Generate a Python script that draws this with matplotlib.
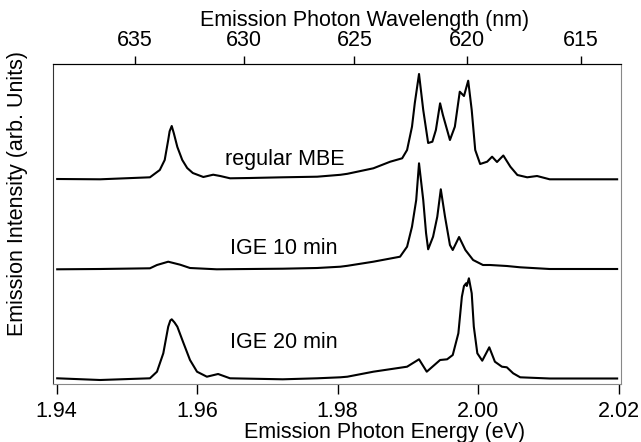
import matplotlib
matplotlib.use("Agg")
import matplotlib.pyplot as plt

plt.rcParams['font.family'] = ['Liberation Sans', 'DejaVu Sans']

# photon energy (eV) and intensity (arb. units)
mbe_energy = [1.9401, 1.9462, 1.9533, 1.9547, 1.9554, 1.9559, 1.9561, 1.9564, 1.9567,
              1.9572, 1.9579, 1.9586, 1.9594, 1.9609, 1.9623, 1.9633, 1.9647, 1.9675,
              1.9722, 1.9771, 1.9804, 1.9814, 1.9851, 1.9875, 1.9892, 1.9899, 1.9906,
              1.9910, 1.9916, 1.9922, 1.9929, 1.9935, 1.9940, 1.9946, 1.9950, 1.9960,
              1.9967, 1.9974, 1.9980, 1.9986, 1.9991, 1.9996, 2.0003, 2.0013, 2.0020,
              2.0027, 2.0036, 2.0046, 2.0056, 2.0070, 2.0084, 2.0102, 2.0198]
mbe_intensity = [0.3, 0.0, 2.0, 9.3, 19.3, 39.3, 48.0, 53.3, 46.0,
                 32.3, 19.3, 11.3, 6.3, 2.3, 4.6, 3.3, 1.0, 1.3,
                 2.0, 2.6, 4.5, 5.5, 11.0, 17.6, 21.0, 29.3, 52.6,
                 76.3, 105.3, 69.3, 36.3, 37.6, 49.3, 76.0, 64.3, 39.3,
                 52.6, 87.6, 83.3, 98.6, 69.3, 29.3, 15.3, 17.6, 22.6,
                 17.3, 23.8, 12.6, 4.3, 2.0, 3.3, 0.0, 0.0]

ige10_energy = [1.9401, 1.9462, 1.9533, 1.9543, 1.9559, 1.9576, 1.9590, 1.9628, 1.9722,
                1.9771, 1.9804, 1.9814, 1.9851, 1.9889, 1.9899, 1.9906, 1.9912, 1.9916,
                1.9922, 1.9926, 1.9929, 1.9936, 1.9942, 1.9947, 1.9953, 1.9960, 1.9964,
                1.9973, 1.9982, 1.9993, 2.0007, 2.0017, 2.0041, 2.0060, 2.0102, 2.0198]
ige10_intensity = [0.0, 0.3, 1.0, 4.3, 7.6, 4.6, 1.3, 0.0, 0.6,
                   1.3, 2.6, 3.5, 7.6, 12.6, 22.6, 42.6, 69.3, 106.0,
                   69.3, 36.3, 20.0, 32.6, 52.6, 80.0, 52.6, 24.3, 19.3,
                   32.3, 19.3, 9.3, 4.3, 4.3, 3.3, 2.0, 0.3, 0.3]

ige20_energy = [1.9401, 1.9462, 1.9533, 1.9543, 1.9552, 1.9559, 1.9562, 1.9564, 1.9568,
                1.9572, 1.9580, 1.9590, 1.9600, 1.9614, 1.9630, 1.9647, 1.9722, 1.9771,
                1.9804, 1.9814, 1.9851, 1.9899, 1.9916, 1.9927, 1.9946, 1.9956, 1.9964,
                1.9972, 1.9977, 1.9980, 1.9983, 1.9984, 1.9987, 1.9991, 1.9994, 1.9999,
                2.0006, 2.0016, 2.0024, 2.0034, 2.0041, 2.0050, 2.0060, 2.0102, 2.0198]
ige20_intensity = [0.2, -1.5, 0.2, 6.8, 25.2, 51.8, 58.0, 59.2, 56.0,
                   51.8, 36.8, 18.5, 6.8, 1.8, 4.5, 0.2, -0.8, 0.2,
                   1.2, 1.8, 6.8, 11.8, 19.2, 6.8, 18.5, 19.2, 23.5,
                   45.2, 81.8, 92.5, 95.2, 92.5, 100.2, 85.2, 51.8, 25.2,
                   17.8, 31.2, 16.8, 11.8, 11.2, 5.2, 1.2, 0.0, 0.0]

sample_names = ['regular MBE', 'IGE 10 min', 'IGE 20 min']
energy_ticks = [1.94, 1.96, 1.98, 2.00, 2.02]
wavelength_ticks = [635, 630, 625, 620, 615]

HC = 1239.0  # eV nm

offsets = [204.7, 114.7, 5.5]
label_pos = [(1.9640, 224), (1.9647, 136), (1.9647, 41)]

fig = plt.figure(figsize=(6.41, 4.42), dpi=100)
ax = fig.add_axes([53 / 641, 1 - 384 / 442, 568 / 641, 320 / 442])

series = [(mbe_energy, mbe_intensity), (ige10_energy, ige10_intensity),
          (ige20_energy, ige20_intensity)]
for (e, inten), off, name, (tx, ty) in zip(series, offsets, sample_names, label_pos):
    ax.plot(e, [v + off for v in inten], color='black', lw=1.5)
    ax.text(tx, ty, name, fontsize=15.5, va='center', ha='left')

ax.set_xlim(1.9395, 2.02035)
ax.set_ylim(0, 320)
ax.set_yticks([])
ax.set_xticks(energy_ticks)
ax.set_xticklabels(['%.2f' % t for t in energy_ticks])
ax.tick_params(axis='x', direction='out', length=7, width=1, pad=5, labelsize=15.5)
ax.set_xlabel('Emission Photon Energy (eV)', fontsize=15.5, labelpad=0)
ax.xaxis.label.set_x(0.583)
ax.set_ylabel('Emission Intensity (arb. Units)', fontsize=15.5)
ax.yaxis.set_label_coords(-0.044, 0.594)
for side in ['bottom', 'right']:
    ax.spines[side].set_color('#888888')
ax.spines['left'].set_color('#333333')

top = ax.secondary_xaxis('top', functions=(lambda x: HC / x, lambda x: HC / x))
top.set_xticks(wavelength_ticks)
top.tick_params(direction='out', length=6, width=1, pad=3, labelsize=15.5)
top.set_xlabel('Emission Photon Wavelength (nm)', fontsize=15.5, labelpad=3)
top.xaxis.label.set_x(0.549)

fig.savefig('out.png', dpi=100)
